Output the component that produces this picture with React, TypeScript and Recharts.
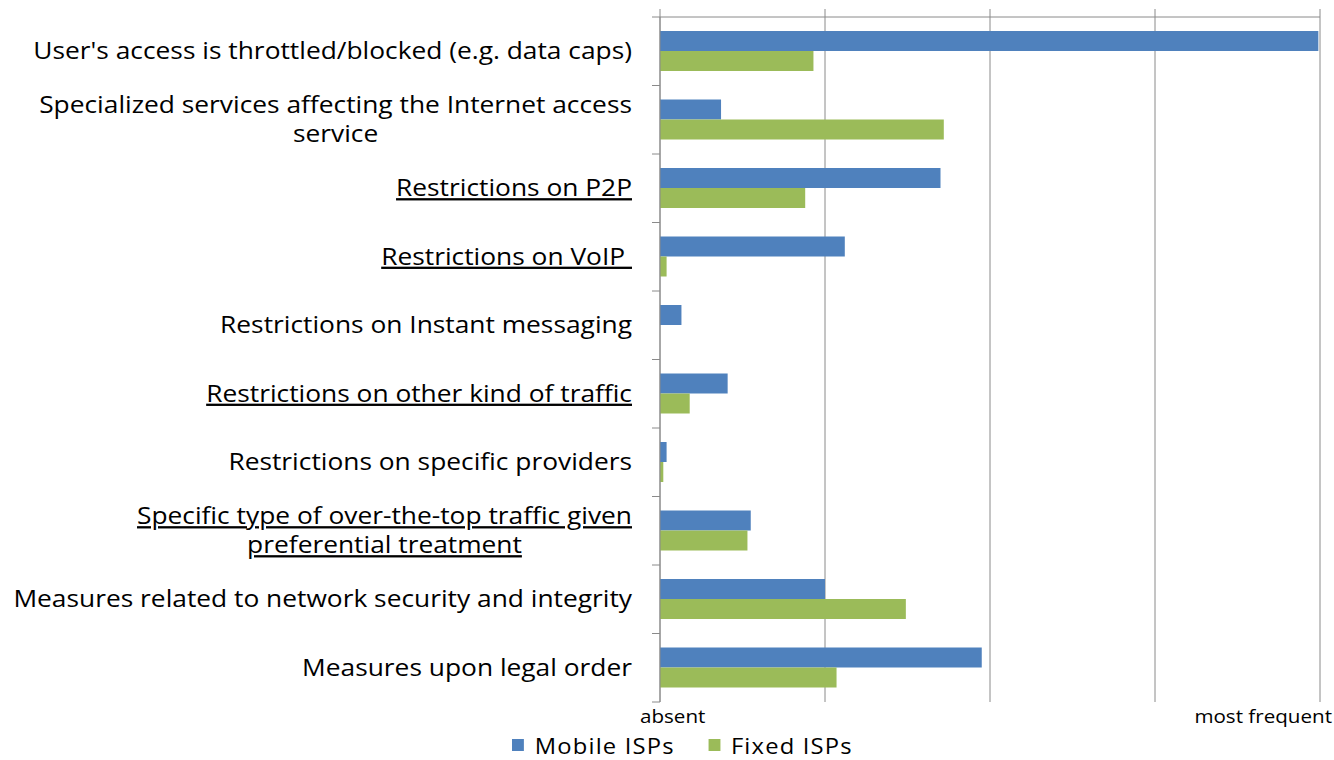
import React, { useLayoutEffect, useRef, useState } from 'react';
import {
  BarChart,
  Bar,
  XAxis,
  YAxis,
  Legend,
  ReferenceLine,
} from 'recharts';

const categories = [
  "User's access is throttled/blocked (e.g. data caps)",
  'Specialized services affecting the Internet access\nservice',
  'Restrictions on P2P',
  'Restrictions on VoIP ',
  'Restrictions on Instant messaging',
  'Restrictions on other kind of traffic',
  'Restrictions on specific providers',
  'Specific type of over-the-top traffic given\npreferential treatment',
  'Measures related to network security and integrity',
  'Measures upon legal order',
];
const underlined = [false, false, true, true, false, true, false, true, false, false];
const mobileISPs = [3.99, 0.37, 1.7, 1.12, 0.13, 0.41, 0.04, 0.55, 1.0, 1.95];
const fixedISPs = [0.93, 1.72, 0.88, 0.04, 0, 0.18, 0.02, 0.53, 1.49, 1.07];
const scaleTicks = [0, 1, 2, 3, 4];
const scaleLabels: Record<number, string> = { 0: 'absent', 4: 'most frequent' };
const seriesOrder = ['Mobile ISPs', 'Fixed ISPs'];

const data = categories.map((name, i) => ({
  name,
  mobile: mobileISPs[i],
  fixed: fixedISPs[i],
}));

const W = 1334;
const H = 760;
const MARGIN = { top: 16, right: 14, bottom: 58, left: 0 };
const TOP_AXIS_H = 1;
const PLOT_H = H - MARGIN.top - MARGIN.bottom - TOP_AXIS_H;
const BAND = PLOT_H / categories.length;

const FONT = '"Open Sans", sans-serif';
const STRETCH = 1.145; // the source text is wider than Open Sans
const BLUE = '#4F81BD';
const GREEN = '#9BBB59';
const GRID = '#8a8a8a';

const stretchAt = (x: number) => `translate(${x},0) scale(${STRETCH},1) translate(${-x},0)`;

// category label, wrapped lines are centred on the first line
const CategoryTick = (props: any) => {
  const { x, y, payload, index } = props;
  const lines: string[] = String(payload.value).split('\n');
  const ul = underlined[index];
  const ref = useRef<SVGTextElement>(null);
  const [w, setW] = useState(0);
  useLayoutEffect(() => {
    if (ref.current) setW(ref.current.getComputedTextLength());
  }, [payload.value]);

  const right = x - 28;
  const lineH = 29;
  const y0 = y - ((lines.length - 1) * lineH) / 2;
  const textStyle: React.CSSProperties = {
    textDecoration: ul ? 'underline' : 'none',
    textDecorationThickness: '2px',
    textUnderlineOffset: '4px',
    whiteSpace: 'pre',
  };

  return (
    <g>
      <line x1={x - 8} x2={x} y1={y - BAND / 2} y2={y - BAND / 2} stroke={GRID} />
      {index === categories.length - 1 && (
        <line x1={x - 8} x2={x} y1={y + BAND / 2} y2={y + BAND / 2} stroke={GRID} />
      )}
      <g transform={stretchAt(right)}>
        {lines.map((line, i) => (
          <text
            key={i}
            ref={i === 0 ? ref : undefined}
            x={i === 0 ? right : right - w / 2}
            y={y0 + i * lineH}
            dy="0.35em"
            textAnchor={i === 0 ? 'end' : 'middle'}
            fontFamily={FONT}
            fontSize={23}
            fill="#000"
            style={textStyle}
          >
            {line}
          </text>
        ))}
      </g>
    </g>
  );
};

// vertical grid line for a scale step, poking a little above the top axis
const GridLine = (props: any) => {
  const { x1, y1, y2 } = props;
  if (x1 == null || isNaN(x1)) return null;
  return <line x1={x1} x2={x1} y1={y1 - 8} y2={y2} stroke={GRID} />;
};

const scaleLabel = (value: number) => (props: any) => {
  const label = scaleLabels[value];
  const vb = props?.viewBox;
  if (!label || !vb) return null;
  const isEnd = value === scaleTicks[scaleTicks.length - 1];
  const ax = isEnd ? vb.x + 12 : vb.x - 20;
  return (
    <text
      x={ax}
      y={vb.y + vb.height + 15}
      dy="0.35em"
      textAnchor={isEnd ? 'end' : 'start'}
      fontFamily={FONT}
      fontSize={18}
      fill="#000"
      transform={stretchAt(ax)}
    >
      {label}
    </text>
  );
};

const LegendContent = (props: any) => {
  const payload = [...(props.payload || [])].sort(
    (a: any, b: any) => seriesOrder.indexOf(a.value) - seriesOrder.indexOf(b.value),
  );
  return (
    <div
      style={{
        display: 'flex',
        alignItems: 'center',
        fontFamily: FONT,
        fontSize: 22,
        lineHeight: '30px',
        letterSpacing: 1.1,
        color: '#000',
        whiteSpace: 'nowrap',
        transform: 'scaleX(1.08)',
        transformOrigin: 'left center',
      }}
    >
      {payload.map((entry: any, i: number) => (
        <div key={`legend-${i}`} style={{ display: 'flex', alignItems: 'center', marginRight: 31 }}>
          <span style={{ width: 11, height: 12, background: entry.color, display: 'inline-block', marginRight: 10 }} />
          <span>{entry.value}</span>
        </div>
      ))}
    </div>
  );
};

export default function App() {
  return (
    <div style={{ position: 'absolute', left: 0, top: 0, width: W, height: H, background: '#fff' }}>
      <BarChart
        width={W}
        height={H}
        data={data}
        layout="vertical"
        margin={MARGIN}
        barSize={20}
        barGap={0}
      >
        <XAxis
          orientation="top"
          type="number"
          domain={[0, 4]}
          ticks={scaleTicks}
          height={TOP_AXIS_H}
          tick={false}
          tickLine={false}
          axisLine={{ stroke: GRID }}
        />
        <YAxis
          type="category"
          dataKey="name"
          width={660}
          interval={0}
          tickLine={false}
          tickSize={0}
          tickMargin={0}
          axisLine={{ stroke: GRID }}
          tick={<CategoryTick />}
        />
        {scaleTicks.map((v) => (
          <ReferenceLine
            key={`scale-${v}`}
            x={v}
            stroke={GRID}
            shape={<GridLine />}
            label={scaleLabel(v)}
            {...({ zIndex: 0 } as any)}
          />
        ))}
        <Legend
          layout="horizontal"
          verticalAlign="middle"
          align="center"
          content={<LegendContent />}
          wrapperStyle={{ left: 512, top: 730, width: 'auto' }}
        />
        <Bar dataKey="mobile" name="Mobile ISPs" fill={BLUE} isAnimationActive={false} />
        <Bar dataKey="fixed" name="Fixed ISPs" fill={GREEN} isAnimationActive={false} />
      </BarChart>
    </div>
  );
}
